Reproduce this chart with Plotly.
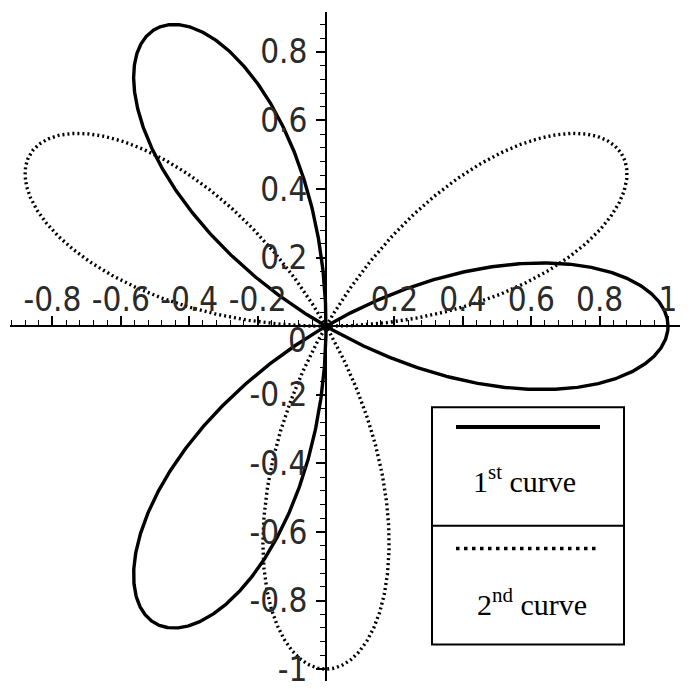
import numpy as np
import plotly.graph_objects as go

# ---- data ----
PETALS = 3                      # rose curves r = cos(3t) and r = sin(3t)
THETA_START, THETA_END, N_SAMPLES = 0.0, np.pi, 1200
curve_names = ["1st curve", "2nd curve"]

x_tickvals = [-0.8, -0.6, -0.4, -0.2, 0.2, 0.4, 0.6, 0.8, 1.0]
x_ticktext = ["-0.8", "-0.6", "-0.4", "-0.2", "0.2", "0.4", "0.6", "0.8", "1"]
y_tickvals = [-1.0, -0.8, -0.6, -0.4, -0.2, 0.2, 0.4, 0.6, 0.8]
y_ticktext = ["-1", "-0.8", "-0.6", "-0.4", "-0.2", "0.2", "0.4", "0.6", "0.8"]

theta = np.linspace(THETA_START, THETA_END, N_SAMPLES)
r1 = np.cos(PETALS * theta)
r2 = np.sin(PETALS * theta)

# ---- layout geometry ----
W, H = 691, 689
ML, MR, MT, MB = 10, 11, 12, 0
XR = [-0.924, 1.035]
YR = [-1.0346, 0.9164]

def px(xpix):
    return (xpix - ML) / (W - ML - MR)

def py(ypix):
    return (H - MB - ypix) / (H - MT - MB)

tick_font = dict(family="Liberation Sans Narrow, DejaVu Sans Condensed, Liberation Sans", size=33, color="#2a2a2a")

fig = go.Figure()
fig.add_trace(go.Scatter(x=r1 * np.cos(theta), y=r1 * np.sin(theta), mode="lines",
                         line=dict(color="black", width=3.4), name=curve_names[0]))
fig.add_trace(go.Scatter(x=r2 * np.cos(theta), y=r2 * np.sin(theta), mode="lines",
                         line=dict(color="black", width=3.4, dash="2px,3px"), name=curve_names[1]))

xpos = (0 - YR[0]) / (YR[1] - YR[0])
ypos = (0 - XR[0]) / (XR[1] - XR[0])

fig.update_layout(
    width=W, height=H, margin=dict(l=ML, r=MR, t=MT, b=MB),
    paper_bgcolor="white", plot_bgcolor="white", showlegend=False,
    xaxis=dict(range=XR, anchor="free", position=xpos, side="top", showgrid=False, zeroline=False,
               showline=True, linecolor="black", linewidth=2,
               tickmode="array", tickvals=x_tickvals, ticktext=x_ticktext,
               ticks="outside", ticklen=9, tickwidth=1.5, tickcolor="black",
               tickfont=tick_font, ticklabelstandoff=-8, ticklabeloverflow="allow",
               minor=dict(ticks="outside", ticklen=5, tickwidth=1.2, tickcolor="black", dtick=0.04, tick0=0, showgrid=False)),
    yaxis=dict(range=YR, anchor="free", position=ypos, side="left", showgrid=False, zeroline=False,
               showline=True, linecolor="black", linewidth=2,
               tickmode="array", tickvals=y_tickvals, ticktext=y_ticktext,
               ticks="outside", ticklen=9, tickwidth=1.5, tickcolor="black",
               tickfont=tick_font, ticklabelstandoff=2, ticklabeloverflow="allow",
               minor=dict(ticks="outside", ticklen=5, tickwidth=1.2, tickcolor="black", dtick=0.04, tick0=0, showgrid=False)),
)

# origin label
fig.add_annotation(x=-0.082, y=-0.043, text="0", showarrow=False, font=tick_font, xanchor="center", yanchor="middle")

# legend box
box = dict(x0=432, x1=624, y0=412, y1=652, ymid=532)
fig.add_shape(type="rect", xref="paper", yref="paper", x0=px(box["x0"]), x1=px(box["x1"]),
              y0=py(box["y1"]), y1=py(box["y0"]), line=dict(color="black", width=2), fillcolor="white", layer="above")
fig.add_shape(type="line", xref="paper", yref="paper", x0=px(box["x0"]), x1=px(box["x1"]),
              y0=py(box["ymid"]), y1=py(box["ymid"]), line=dict(color="black", width=2), layer="above")
fig.add_shape(type="line", xref="paper", yref="paper", x0=px(456), x1=px(600), y0=py(432), y1=py(432),
              line=dict(color="black", width=4), layer="above")
fig.add_shape(type="line", xref="paper", yref="paper", x0=px(456), x1=px(596), y0=py(555), y1=py(555),
              line=dict(color="black", width=3.5, dash="3.5px,4.5px"), layer="above")
legend_font = dict(family="Liberation Serif, Times New Roman, serif", size=30, color="black")
fig.add_annotation(xref="paper", yref="paper", x=px(524), y=py(485), text="1<sup>st</sup> curve",
                   showarrow=False, font=legend_font, xanchor="center", yanchor="middle")
fig.add_annotation(xref="paper", yref="paper", x=px(532), y=py(609), text="2<sup>nd</sup> curve",
                   showarrow=False, font=legend_font, xanchor="center", yanchor="middle")

fig.write_html("out.html", config={"displayModeBar": False},
               post_script="document.documentElement.style.overflow='hidden';"
                           "document.body.style.overflow='hidden';"
                           "document.body.style.margin='0';document.body.style.padding='0';")
